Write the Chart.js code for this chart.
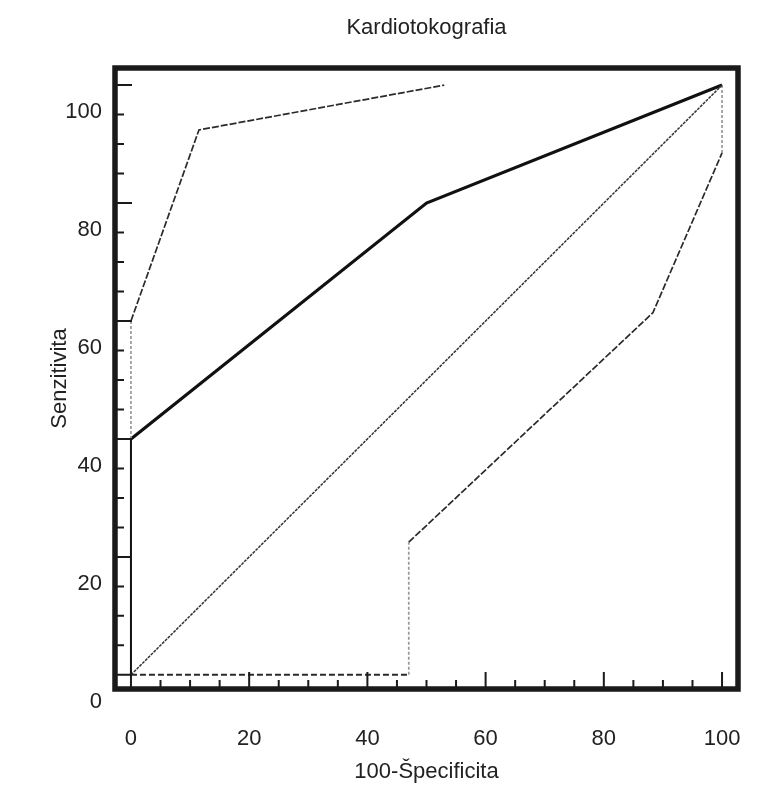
<!DOCTYPE html>
<html>
<head>
<meta charset="utf-8">
<script src="https://cdn.jsdelivr.net/npm/chart.js@4/dist/chart.umd.min.js"></script>
<style>
  html, body { margin: 0; padding: 0; background: #fff; }
  #wrap { width: 782px; height: 800px; position: relative; }
</style>
</head>
<body>
<div id="wrap"><canvas id="chart"></canvas></div>
<script>
// ROC curve and its confidence band
const rocX   = [0, 0, 50, 100];
const rocY   = [0, 40, 80, 100];
const upperX = [0, 0, 11.5, 53];
const upperY = [40, 60, 92.4, 100];
const lowerX = [0, 47, 47, 88.3, 100, 100];
const lowerY = [0, 0, 22.5, 61.4, 88.5, 100];
const diagX  = [0, 100];
const diagY  = [0, 100];

const xTicks = [0, 20, 40, 60, 80, 100];
const yTicks = [0, 20, 40, 60, 80, 100];
const minorStep = 5;

const pts = (xs, ys) => xs.map((x, i) => ({ x, y: ys[i] }));
const FONT = "'Liberation Sans', Arial, sans-serif";

// thick frame + tick marks pointing into the plot
const framePlugin = {
  id: 'frame',
  afterDraw(chart) {
    const { ctx, chartArea: a, scales: { x, y } } = chart;
    ctx.save();
    ctx.strokeStyle = '#1a1a1a';
    ctx.lineWidth = 2;
    ctx.beginPath();
    for (let v = 0; v <= 100; v += minorStep) {
      const len = v % 20 === 0 ? 17 : 9;
      const px = x.getPixelForValue(v);
      ctx.moveTo(px, a.bottom);
      ctx.lineTo(px, a.bottom - len);
      const py = y.getPixelForValue(v);
      ctx.moveTo(a.left, py);
      ctx.lineTo(a.left + len, py);
    }
    ctx.stroke();
    ctx.lineWidth = 5.5;
    ctx.strokeRect(a.left, a.top, a.right - a.left, a.bottom - a.top);
    ctx.restore();
  }
};

new Chart(document.getElementById('chart').getContext('2d'), {
  type: 'scatter',
  data: {
    datasets: [
      {
        label: 'Diagonal',
        data: pts(diagX, diagY),
        showLine: true,
        borderColor: '#333',
        borderWidth: 1.5,
        borderDash: [3, 1],
        pointRadius: 0,
      },
      {
        label: 'Dolná hranica',
        data: pts(lowerX, lowerY),
        showLine: true,
        borderColor: '#2a2a2a',
        borderWidth: 1.7,
        borderDash: [7, 2],
        pointRadius: 0,
        segment: {
          borderColor: c => (c.p0DataIndex === 1 || c.p0DataIndex === 4) ? '#999' : undefined,
          borderWidth: c => c.p0DataIndex === 0 ? 2 : undefined,
          borderDash: c => c.p0DataIndex === 0 ? [6, 3] : ((c.p0DataIndex === 1 || c.p0DataIndex === 4) ? [3, 2] : undefined),
        },
      },
      {
        label: 'Horná hranica',
        data: pts(upperX, upperY),
        showLine: true,
        borderColor: '#2a2a2a',
        borderWidth: 1.7,
        borderDash: [7, 2],
        pointRadius: 0,
        segment: {
          borderColor: c => c.p0DataIndex === 0 ? '#999' : undefined,
          borderDash: c => c.p0DataIndex === 0 ? [3, 2] : undefined,
        },
      },
      {
        label: 'ROC',
        data: pts(rocX, rocY),
        showLine: true,
        borderColor: '#111',
        borderWidth: 3.2,
        pointRadius: 0,
        segment: {
          borderWidth: c => c.p0DataIndex === 0 ? 2 : undefined,
        },
      },
    ],
  },
  options: {
    responsive: true,
    maintainAspectRatio: false,
    animation: false,
    layout: { padding: { left: 0, right: 44, top: 0, bottom: 0 } },
    plugins: {
      legend: { display: false },
      tooltip: { enabled: false },
      title: {
        display: true,
        text: 'Kardiotokografia',
        fullSize: false,
        color: '#222',
        font: { family: FONT, size: 22, weight: 'normal' },
        padding: { top: 15, bottom: 26.6 },
      },
    },
    scales: {
      x: {
        type: 'linear',
        min: -2.7,
        max: 102.7,
        afterBuildTicks: ax => { ax.ticks = xTicks.map(v => ({ value: v })); },
        afterFit: ax => { ax.height = 111; },
        grid: { display: false, drawTicks: false },
        border: { display: false },
        ticks: {
          color: '#222',
          padding: 37,
          maxRotation: 0,
          autoSkip: false,
          font: { family: FONT, size: 22 },
        },
        title: {
          display: true,
          text: '100-Špecificita',
          color: '#222',
          font: { family: FONT, size: 22 },
          padding: { top: 0, bottom: 15 },
        },
      },
      y: {
        type: 'linear',
        min: -2.4,
        max: 102.9,
        afterBuildTicks: ax => { ax.ticks = yTicks.map(v => ({ value: v })); },
        afterFit: ax => { ax.width = 115; },
        grid: { display: false, drawTicks: false },
        border: { display: false },
        ticks: {
          color: '#222',
          padding: 13,
          labelOffset: 27,
          autoSkip: false,
          font: { family: FONT, size: 22 },
        },
        title: {
          display: true,
          text: 'Senzitivita',
          color: '#222',
          font: { family: FONT, size: 22 },
          padding: { top: 47, bottom: 0 },
        },
      },
    },
  },
  plugins: [framePlugin],
});
</script>
</body>
</html>
